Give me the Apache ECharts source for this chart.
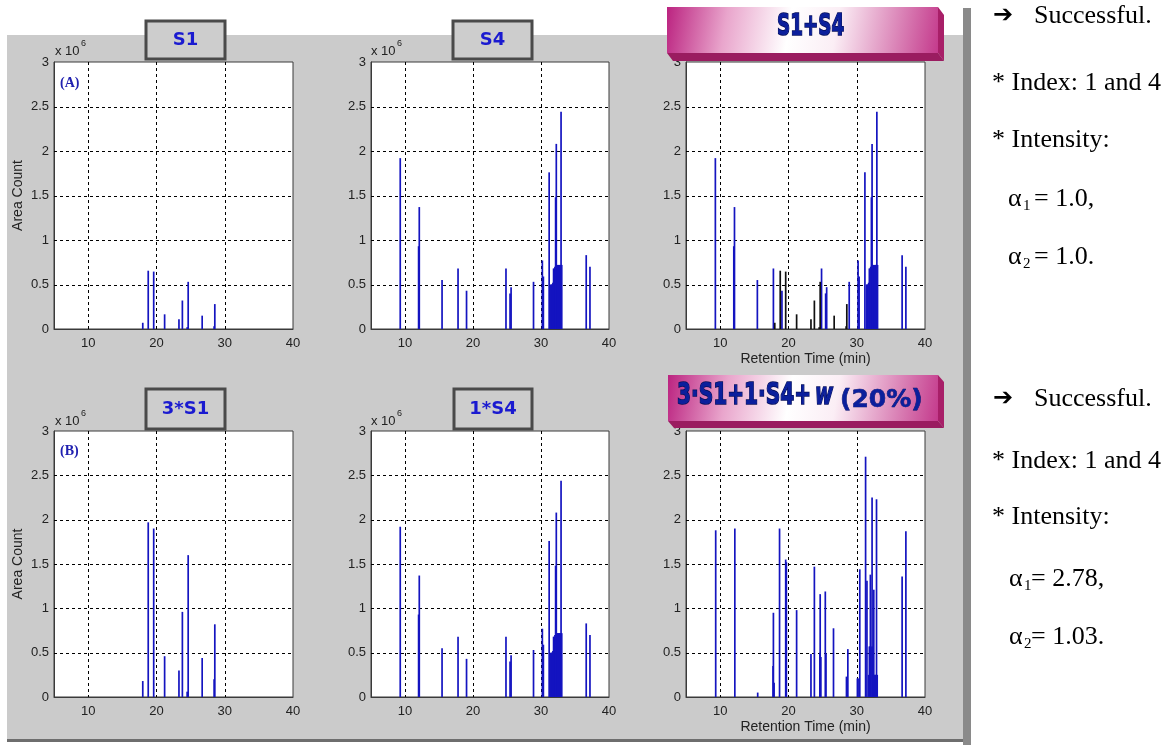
<!DOCTYPE html>
<html>
<head>
<meta charset="utf-8">
<script src="https://cdn.jsdelivr.net/npm/echarts@6/dist/echarts.min.js"></script>
<style>
  html, body { margin: 0; padding: 0; background: #ffffff; }
  #chart { width: 1175px; height: 745px; }
</style>
</head>
<body>
<div id="chart"></div>
<script>
// Axis ranges and grid ticks (retention time in min, area count in units of 10^6)
const xMin = 5, xMax = 40;
const yMin = 0, yMax = 3;
const xGridValues = [10, 20, 30];
const yGridValues = [0.5, 1, 1.5, 2, 2.5];

// Reference spectrum S1
const s1Time = [18.0, 18.8, 19.6, 21.2, 23.3, 23.8, 24.5, 24.65, 26.7, 28.45, 28.55];
const s1Area = [0.07, 0.655, 0.645, 0.165, 0.11, 0.32, 0.02, 0.53, 0.15, 0.03, 0.28];

// Reference spectrum S4
const s4Time = [9.3, 12.0, 12.1, 15.45, 17.8, 19.05, 24.85, 25.45, 25.6, 28.9,
                30.2, 30.35, 31.2,
                31.45, 31.55, 31.65, 31.75, 31.85, 31.95, 32.05, 32.15, 32.25,
                32.35, 32.45, 32.55, 32.65, 32.75, 32.85, 32.95, 33.05,
                36.65, 37.2];
const s4Area = [1.92, 0.93, 1.37, 0.55, 0.68, 0.43, 0.68, 0.40, 0.47, 0.53,
                0.77, 0.59, 1.76,
                0.50, 0.50, 0.50, 0.52, 0.68, 0.68, 0.70, 1.48, 2.08,
                0.72, 0.72, 0.72, 0.72, 0.72, 0.72, 2.44, 0.72,
                0.83, 0.70];

// Scaled spectrum 3*S1
const s1x3Time = [18.0, 18.8, 19.6, 21.2, 23.3, 23.8, 24.5, 24.65, 26.7, 28.45, 28.55];
const s1x3Area = [0.18, 1.97, 1.90, 0.46, 0.30, 0.96, 0.06, 1.60, 0.44, 0.20, 0.82];

// Mixture 3*S1 + 1*S4 + w (20% noise)
const mixTime = [9.35, 12.15, 15.5, 17.75, 17.8, 17.9, 18.7, 19.6, 19.7, 21.2,
                 23.3, 23.8, 24.6, 24.65, 24.75, 25.4, 25.5, 26.6, 28.5, 28.7,
                 30.1, 30.2, 30.45, 31.3, 31.5, 31.75, 31.85, 31.95, 32.0, 32.1,
                 32.25, 32.35, 32.5, 32.6, 32.7, 32.8, 32.9, 33.0, 36.65, 37.2];
const mixArea = [1.88, 1.90, 0.05, 0.35, 0.95, 0.16, 1.90, 1.55, 1.52, 0.98,
                 0.485, 1.47, 0.50, 1.16, 0.45, 1.19, 0.49, 0.775, 0.23, 0.54,
                 0.21, 0.21, 1.44, 2.71, 1.31, 0.25, 0.57, 0.57, 1.38, 0.57,
                 2.25, 0.57, 1.21, 0.25, 0.25, 0.25, 2.23, 0.25, 1.36, 1.87];

// Panel titles and side notes
const panelTitles = ['S1', 'S4', '3*S1', '1*S4'];
const panelTags = ['(A)', '(B)'];
const yAxisTitle = 'Area Count';
const xAxisTitle = 'Retention Time (min)';
const notesTop = ['Successful.', '* Index: 1 and 4', '* Intensity:', '= 1.0,', '= 1.0.'];
const notesBottom = ['Successful.', '* Index: 1 and 4', '* Intensity:', '= 2.78,', '= 1.03.'];

const BLUE = '#1414c0';
const BLACK = '#101010';
const BAR_W = 1.7;
const zip = (t, a) => t.map((v, i) => [v, a[i]]);

// Panel layout: three columns, two rows
const cols = [{ left: 54, width: 239 }, { left: 371, width: 238 }, { left: 686, width: 239 }];
const rows = [{ top: 62, height: 267 }, { top: 431, height: 266 }];

const panels = [
  { c: 0, r: 0, layers: [{ data: zip(s1Time, s1Area), color: BLUE }], yName: true, xName: false },
  { c: 1, r: 0, layers: [{ data: zip(s4Time, s4Area), color: BLUE }], yName: false, xName: false },
  { c: 2, r: 0, layers: [{ data: zip(s4Time, s4Area), color: BLUE }, { data: zip(s1Time, s1Area), color: BLACK }], yName: false, xName: true },
  { c: 0, r: 1, layers: [{ data: zip(s1x3Time, s1x3Area), color: BLUE }], yName: true, xName: false },
  { c: 1, r: 1, layers: [{ data: zip(s4Time, s4Area), color: BLUE }], yName: false, xName: false },
  { c: 2, r: 1, layers: [{ data: zip(mixTime, mixArea), color: BLUE }], yName: false, xName: true }
];

const LABEL_FONT = 'Liberation Sans';
const grids = [], xAxes = [], yAxes = [], series = [];

panels.forEach((p, i) => {
  grids.push({
    left: cols[p.c].left, width: cols[p.c].width,
    top: rows[p.r].top, height: rows[p.r].height,
    show: true, backgroundColor: '#ffffff',
    borderColor: '#3a3a3a', borderWidth: 1,
    outerBoundsMode: 'none', containLabel: false
  });
  xAxes.push({
    gridIndex: i, type: 'value', min: xMin, max: xMax, interval: 5,
    axisLine: { show: true, onZero: false, lineStyle: { color: '#3a3a3a', width: 1 } },
    axisTick: { show: false },
    splitLine: { show: false },
    axisLabel: {
      color: '#222', fontSize: 13, fontFamily: LABEL_FONT, margin: 8,
      formatter: v => (v % 10 === 0 ? String(v) : '')
    },
    name: p.xName ? xAxisTitle : '',
    nameLocation: 'middle', nameGap: 23,
    nameTextStyle: { color: '#222', fontSize: 14, fontFamily: LABEL_FONT }
  });
  yAxes.push({
    gridIndex: i, type: 'value', min: yMin, max: yMax, interval: 0.5,
    axisLine: { show: true, lineStyle: { color: '#3a3a3a', width: 1 } },
    axisTick: { show: false },
    splitLine: { show: false },
    axisLabel: { color: '#222', fontSize: 13, fontFamily: LABEL_FONT, margin: 5 },
    name: p.yName ? yAxisTitle : '',
    nameLocation: 'middle', nameGap: 29,
    nameTextStyle: { color: '#222', fontSize: 14, fontFamily: LABEL_FONT }
  });

  // dotted grid, vertical lines
  series.push({
    type: 'custom', xAxisIndex: i, yAxisIndex: i, silent: true, z: 2,
    data: xGridValues.map(v => [v, yMin]),
    renderItem: (params, api) => {
      const v = api.value(0);
      const b = api.coord([v, yMin]), t = api.coord([v, yMax]);
      const x = Math.round(b[0]) + 0.5;
      return { type: 'line', shape: { x1: x, y1: t[1], x2: x, y2: b[1] },
               style: { stroke: '#000', lineWidth: 1, lineDash: [3, 3] } };
    }
  });
  // dotted grid, horizontal lines
  series.push({
    type: 'custom', xAxisIndex: i, yAxisIndex: i, silent: true, z: 2,
    data: yGridValues.map(v => [xMin, v]),
    renderItem: (params, api) => {
      const v = api.value(1);
      const l = api.coord([xMin, v]), r = api.coord([xMax, v]);
      const y = Math.round(l[1]) + 0.5;
      return { type: 'line', shape: { x1: l[0], y1: y, x2: r[0], y2: y },
               style: { stroke: '#000', lineWidth: 1, lineDash: [3, 3] } };
    }
  });
  // peak sticks
  p.layers.forEach((layer, k) => {
    series.push({
      type: 'custom', xAxisIndex: i, yAxisIndex: i, silent: true, z: 3 + k,
      data: layer.data,
      renderItem: (params, api) => {
        const x = api.value(0), y = api.value(1);
        const top = api.coord([x, y]), base = api.coord([x, 0]);
        return { type: 'rect',
                 shape: { x: top[0] - BAR_W / 2, y: top[1], width: BAR_W, height: base[1] - top[1] },
                 style: { fill: layer.color } };
      }
    });
  });
});

// Decorations: figure background, title boxes, exponent labels, notes
const graphic = [];
graphic.push({ type: 'rect', z: -10, shape: { x: 7, y: 35, width: 956, height: 706 }, style: { fill: '#cbcbcb' } });
graphic.push({ type: 'rect', z: -9, shape: { x: 7, y: 739, width: 956, height: 3 }, style: { fill: '#6e6e6e' } });
graphic.push({ type: 'rect', z: -9, shape: { x: 963, y: 8, width: 8, height: 737 }, style: { fill: '#8a8a8a' } });

// plain title boxes
const smallBoxes = [
  { x: 146, y: 21, w: 79, h: 38 },
  { x: 453, y: 21, w: 79, h: 38 },
  { x: 146, y: 389, w: 79, h: 40 },
  { x: 454, y: 389, w: 78, h: 40 }
];
smallBoxes.forEach((b, i) => {
  graphic.push({ type: 'rect', z: 40, shape: { x: b.x, y: b.y, width: b.w, height: b.h },
                 style: { fill: '#cdcdcd', stroke: '#4a4a4a', lineWidth: 3 } });
  graphic.push({ type: 'text', z: 41, x: b.x + b.w / 2, y: b.y + b.h / 2,
                 style: { text: panelTitles[i], font: 'bold 18px "DejaVu Sans"', fill: '#1a1ad0',
                          textAlign: 'center', textVerticalAlign: 'middle', align: 'center', verticalAlign: 'middle' } });
});

// bevelled gradient title boxes
function fancyBox(x, y, w, h, dx, dy) {
  graphic.push({ type: 'polygon', z: 50, shape: { points: [[x + w, y], [x + w + dx, y + dy], [x + w + dx, y + h + dy], [x + w, y + h]] },
                 style: { fill: '#a81f68' } });
  graphic.push({ type: 'polygon', z: 50, shape: { points: [[x, y + h], [x + w, y + h], [x + w + dx, y + h + dy], [x + dx, y + h + dy]] },
                 style: { fill: '#9a1c60' } });
  graphic.push({ type: 'rect', z: 51, shape: { x: x, y: y, width: w, height: h },
                 style: { fill: new echarts.graphic.LinearGradient(0, 0, 1, 1, [
                   { offset: 0, color: '#bb2380' },
                   { offset: 0.22, color: '#e9a5cc' },
                   { offset: 0.45, color: '#ffffff' },
                   { offset: 0.62, color: '#fbeef5' },
                   { offset: 1, color: '#c43a8c' }
                 ]) } });
}
const TITLE_BLUE = '#0b1f9c';
const TITLE_EDGE = '#06105a';
fancyBox(667, 7, 271, 46, 6, 8);
graphic.push({ type: 'text', z: 52, x: 777, y: 27, scaleX: 0.61,
               style: { text: 'S1+S4', font: 'bold 30px "DejaVu Sans"', fill: TITLE_BLUE, stroke: TITLE_EDGE, lineWidth: 1.6,
                        textVerticalAlign: 'middle', verticalAlign: 'middle' } });
fancyBox(668, 375, 270, 46, 6, 7);
graphic.push({ type: 'text', z: 52, x: 677, y: 396, scaleX: 0.65,
               style: { text: '3·S1+1·S4+', font: 'bold 31px "DejaVu Sans"', fill: TITLE_BLUE, stroke: TITLE_EDGE, lineWidth: 1.6,
                        textVerticalAlign: 'middle', verticalAlign: 'middle' } });
graphic.push({ type: 'text', z: 52, x: 815, y: 396, scaleX: 0.63,
               style: { text: 'w', font: 'italic bold 31px "DejaVu Sans"', fill: TITLE_BLUE, stroke: TITLE_EDGE, lineWidth: 1.6,
                        textVerticalAlign: 'middle', verticalAlign: 'middle' } });
graphic.push({ type: 'text', z: 52, x: 840, y: 400,
               style: { text: '(20%)', font: 'bold 25px "DejaVu Sans"', fill: TITLE_BLUE, stroke: TITLE_EDGE, lineWidth: 0.6,
                        textVerticalAlign: 'middle', verticalAlign: 'middle' } });

// exponent labels
[[55, 51], [371, 51], [55, 421], [371, 421]].forEach(([x, y]) => {
  graphic.push({ type: 'text', z: 30, x: x, y: y,
                 style: { text: 'x 10', font: '13px "Liberation Sans"', fill: '#222', textVerticalAlign: 'middle', verticalAlign: 'middle' } });
  graphic.push({ type: 'text', z: 30, x: x + 26, y: y - 7,
                 style: { text: '6', font: '9px "Liberation Sans"', fill: '#222', textVerticalAlign: 'middle', verticalAlign: 'middle' } });
});

// panel tags
[[60, 83], [60, 451]].forEach(([x, y], i) => {
  graphic.push({ type: 'text', z: 30, x: x, y: y,
                 style: { text: panelTags[i], font: 'bold 14px "Liberation Serif"', fill: '#2020b0', textVerticalAlign: 'middle', verticalAlign: 'middle' } });
});

// side notes
function notes(lines, ys, alphaX, eqX) {
  const serif = '26px "Liberation Serif"';
  const mid = { textVerticalAlign: 'middle', verticalAlign: 'middle', fill: '#000' };
  graphic.push({ type: 'text', x: 993, y: ys[0], style: Object.assign({ text: '➔', font: 'bold 24px "DejaVu Sans"' }, mid) });
  graphic.push({ type: 'text', x: 1034, y: ys[0], style: Object.assign({ text: lines[0], font: serif }, mid) });
  graphic.push({ type: 'text', x: 992, y: ys[1], style: Object.assign({ text: lines[1], font: serif }, mid) });
  graphic.push({ type: 'text', x: 992, y: ys[2], style: Object.assign({ text: lines[2], font: serif }, mid) });
  [3, 4].forEach((k, j) => {
    graphic.push({ type: 'text', x: alphaX, y: ys[k], style: Object.assign({ text: 'α', font: serif }, mid) });
    graphic.push({ type: 'text', x: alphaX + 15, y: ys[k] + 7, style: Object.assign({ text: String(j + 1), font: '15px "Liberation Serif"' }, mid) });
    graphic.push({ type: 'text', x: eqX, y: ys[k], style: Object.assign({ text: lines[k], font: serif }, mid) });
  });
}
notes(notesTop, [16, 83, 140, 199, 257], 1008, 1034);
notes(notesBottom, [399, 461, 517, 579, 637], 1009, 1031);

const chart = echarts.init(document.getElementById('chart'), null, { renderer: 'canvas' });
chart.setOption({
  animation: false,
  backgroundColor: '#ffffff',
  grid: grids,
  xAxis: xAxes,
  yAxis: yAxes,
  series: series,
  graphic: graphic
});
</script>
</body>
</html>
